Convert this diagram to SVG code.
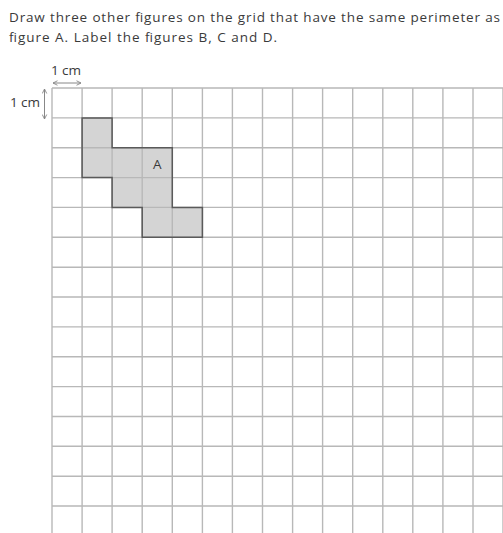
<svg xmlns="http://www.w3.org/2000/svg" width="503" height="533" viewBox="0 0 503 533">
<style>
.t{font-family:"Open Sans","Liberation Sans",sans-serif;font-size:13.5px;fill:#3a3a3a}
.g{stroke:#b8b8b8;stroke-width:1.4;fill:none}
.ar{stroke:#888;stroke-width:1;fill:none}
</style>
<defs>
<marker id="ah" viewBox="0 0 8 8" refX="7" refY="4" markerWidth="6" markerHeight="6" orient="auto-start-reverse">
<path d="M1,1 L7,4 L1,7" fill="none" stroke="#888" stroke-width="1.2"/>
</marker>
</defs>
<rect width="503" height="533" fill="#fff"/>
<text class="t" x="9" y="22" textLength="491" lengthAdjust="spacing">Draw three other figures on the grid that have the same perimeter as</text>
<text class="t" x="9" y="42" textLength="268" lengthAdjust="spacing">figure A. Label the figures B, C and D.</text>
<path id="figureA-fill" d="M82.1,117.9H112.1V147.7H172.3V207.4H202.4V237.3H142.2V207.4H112.1V177.6H82.1Z" fill="#d4d4d4"/>
<g id="grid" class="g">
<path d="M52.0,88V533M82.1,88V533M112.1,88V533M142.2,88V533M172.3,88V533M202.4,88V533M232.4,88V533M262.5,88V533M292.6,88V533M322.6,88V533M352.7,88V533M382.8,88V533M412.8,88V533M442.9,88V533M473.0,88V533M503,88V533"/>
<path d="M52,88H503M52,117.9H503M52,147.7H503M52,177.6H503M52,207.4H503M52,237.3H503M52,267.2H503M52,297.0H503M52,326.9H503M52,356.7H503M52,386.6H503M52,416.5H503M52,446.3H503M52,476.2H503M52,506.0H503"/>
</g>
<g id="figureA">
<path d="M82.1,117.9H112.1V147.7H172.3V207.4H202.4V237.3H142.2V207.4H112.1V177.6H82.1Z" fill="none" stroke="#5a5a5a" stroke-width="1.5"/>
<text class="t" x="157.2" y="168.5" text-anchor="middle" font-size="15.5" fill="#555">A</text>
</g>
<g id="scale">
<text class="t" x="66" y="75" text-anchor="middle" font-size="12.5">1 cm</text>
<line class="ar" x1="53" y1="83" x2="81" y2="83" marker-start="url(#ah)" marker-end="url(#ah)"/>
<text class="t" x="25" y="107" text-anchor="middle" font-size="12.5">1 cm</text>
<line class="ar" x1="44.5" y1="89" x2="44.5" y2="119" marker-start="url(#ah)" marker-end="url(#ah)"/>
</g>
</svg>
